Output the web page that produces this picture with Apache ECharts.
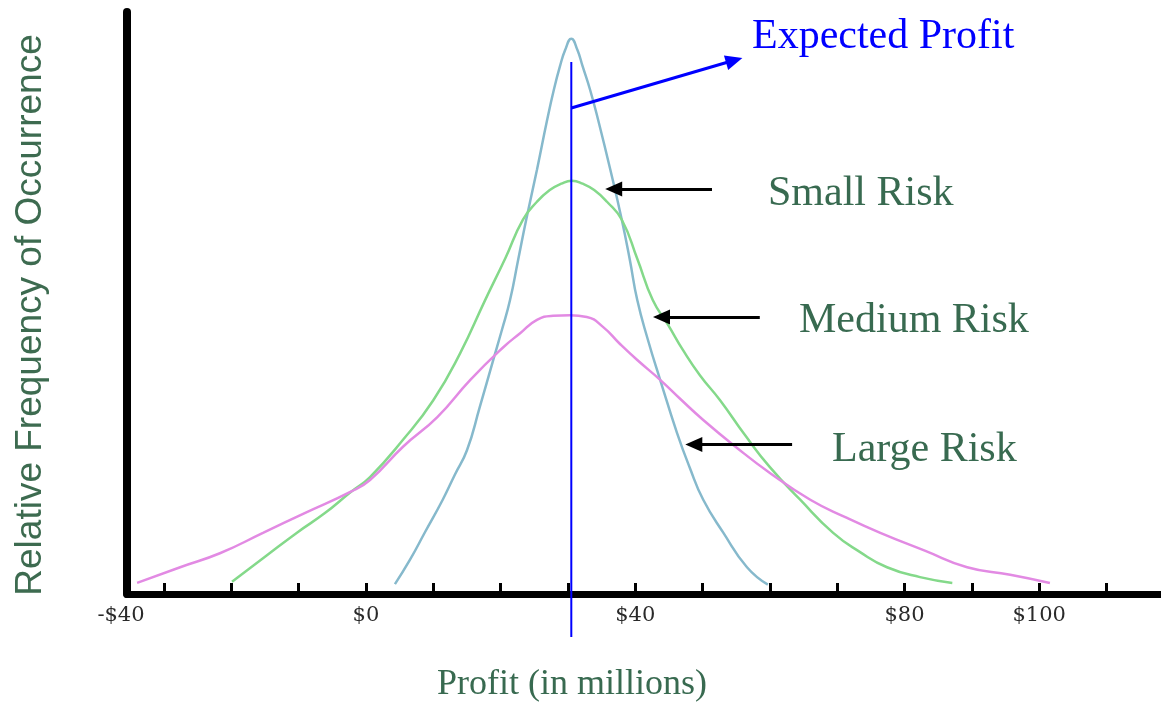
<!DOCTYPE html>
<html>
<head>
<meta charset="utf-8">
<script src="https://cdn.jsdelivr.net/npm/echarts@6/dist/echarts.min.js"></script>
<style>
  html, body { margin: 0; padding: 0; background: #fff; }
  #chart { width: 1161px; height: 707px; }
</style>
</head>
<body>
<div id="chart"></div>
<script>
// profit in $ millions vs relative frequency
const smallRisk = [
  [4.3, 1.7], [6.5, 5.8], [8.8, 10.7], [11.4, 16.2], [13.2, 20.5], [15.0, 24.7],
  [16.9, 32.1], [18.9, 40.2], [20.2, 45.4], [21.4, 50.5], [22.6, 57.4], [23.8, 64.3],
  [25.4, 72.9], [26.9, 81.4], [27.9, 86.6], [28.8, 90.6], [29.6, 93.5], [30.5, 95.4],
  [31.4, 93.5], [32.2, 90.6], [33.3, 86.6], [34.5, 81.4], [36.3, 72.9], [38.0, 64.3],
  [39.2, 57.4], [40.3, 50.5], [41.9, 43.6], [43.7, 36.8], [46.2, 27.7], [48.1, 21.7],
  [50.1, 16.2], [53.1, 10.5], [56.6, 4.6], [59.7, 1.6]
]
const mediumRisk = [
  [-19.9, 2.1], [-15.0, 6.4], [-10.3, 10.5], [-6.1, 13.9], [-2.4, 17.4], [0.6, 20.1],
  [5.5, 26.5], [10.0, 33.3], [14.0, 41.4], [17.7, 50.5], [20.7, 57.7], [23.3, 64.3],
  [25.4, 67.4], [27.3, 69.4], [29.0, 70.5], [30.6, 71.0], [32.2, 70.5], [33.9, 69.4],
  [35.8, 67.4], [38.0, 64.3], [40.3, 57.6], [42.6, 50.5], [44.9, 46.2], [47.1, 41.9],
  [49.6, 37.6], [52.6, 33.3], [56.3, 27.3], [60.0, 21.8], [64.5, 16.2], [69.4, 10.5],
  [73.4, 7.2], [77.4, 4.6], [82.3, 2.9], [87.1, 1.9]
]
const largeRisk = [
  [-34.0, 1.9], [-27.6, 4.6], [-21.7, 7.0], [-15.3, 10.5], [-9.1, 13.9], [-2.4, 17.5],
  [0.6, 19.6], [5.5, 25.3], [10.6, 30.4], [15.5, 36.8], [20.4, 42.4], [22.9, 44.8],
  [25.4, 47.1], [27.8, 47.8], [30.3, 47.9], [32.8, 47.6], [35.2, 45.9], [37.7, 43.0],
  [40.3, 40.2], [43.7, 36.8], [46.7, 33.5], [50.1, 29.9], [54.8, 25.4], [60.0, 20.8],
  [66.0, 16.2], [71.2, 13.2], [76.4, 10.5], [83.1, 7.4], [89.3, 4.6], [95.7, 3.3],
  [101.6, 1.9]
]
const expectedProfit = 30.5
const expectedLine = [[expectedProfit, -7.4], [expectedProfit, 91.4]]
const xTicks = [-30, -20, -10, 0, 10, 20, 30, 40, 50, 60, 70, 80, 90, 100, 110]
const xLabels = [-35.5, 0, 40, 80, 100]
// arrows: [from, to] in data units
const expectedArrow = [[30.5, 83.5], [54.7, 91.7]]
const riskArrows = [
  [[51.4, 69.6], [36.8, 69.6]],
  [[58.5, 47.6], [43.9, 47.6]],
  [[63.3, 25.7], [48.7, 25.7]]
]

const chart = echarts.init(document.getElementById('chart'), null, { renderer: 'canvas' })

const green = '#386a50'
const serif = '"Liberation Serif", "Times New Roman", serif'
const labelFont = '"DejaVu Serif", serif'

const option = {
  animation: false,
  backgroundColor: '#fff',
  grid: { left: 127, right: 0, top: 12, bottom: 113 },
  xAxis: {
    type: 'value',
    min: -35.5,
    max: 118.1,
    splitLine: { show: false },
    axisLine: { show: true, onZero: false, lineStyle: { color: '#000', width: 7 } },
    axisTick: {
      show: true, inside: true, length: 11,
      customValues: xTicks,
      lineStyle: { color: '#000', width: 3 }
    },
    axisLabel: {
      show: true,
      customValues: xLabels,
      margin: 11,
      color: '#2a2a2a',
      fontFamily: labelFont,
      fontSize: 21,
      formatter: v => v < -30 ? '{m|-$40}' : '$' + v,
      rich: { m: { padding: [0, 12, 0, 0], color: '#2a2a2a', fontFamily: labelFont, fontSize: 21 } }
    }
  },
  yAxis: {
    type: 'value',
    min: 0,
    max: 100,
    splitLine: { show: false },
    axisLine: { show: true, onZero: false, lineStyle: { color: '#000', width: 8 } },
    axisTick: { show: false },
    axisLabel: { show: false }
  },
  series: [
    {
      name: 'Small Risk', type: 'line', data: smallRisk, smooth: 0.5, symbol: 'none',
      lineStyle: { color: '#86b9cc', width: 2.5 }
    },
    {
      name: 'Medium Risk', type: 'line', data: mediumRisk, smooth: 0.5, symbol: 'none',
      lineStyle: { color: '#84d98a', width: 2.5 }
    },
    {
      name: 'Large Risk', type: 'line', data: largeRisk, smooth: 0.5, symbol: 'none',
      lineStyle: { color: '#e28ae3', width: 2.5 }
    },
    {
      name: 'Expected Profit', type: 'line', data: expectedLine, symbol: 'none', clip: false,
      lineStyle: { color: '#0000ff', width: 2 },
      markLine: {
        silent: true,
        symbol: ['none', 'triangle'],
        symbolSize: [15, 17],
        label: { show: false },
        data: [
          [
            { coord: expectedArrow[0], lineStyle: { color: '#0000ff', width: 3, type: 'solid' }, itemStyle: { color: '#0000ff' } },
            { coord: expectedArrow[1] }
          ]
        ].concat(riskArrows.map(a => [
          { coord: a[0], lineStyle: { color: '#000', width: 3, type: 'solid' }, itemStyle: { color: '#000' } },
          { coord: a[1] }
        ]))
      }
    }
  ],
  graphic: [
    { type: 'text', x: 752, y: 37, style: { text: 'Expected Profit', font: '42px ' + serif, fill: '#0000ff', verticalAlign: 'middle' } },
    { type: 'text', x: 768, y: 194, style: { text: 'Small Risk', font: '42px ' + serif, fill: green, verticalAlign: 'middle' } },
    { type: 'text', x: 799, y: 321, style: { text: 'Medium Risk', font: '42px ' + serif, fill: green, verticalAlign: 'middle' } },
    { type: 'text', x: 832, y: 450, style: { text: 'Large Risk', font: '42px ' + serif, fill: green, verticalAlign: 'middle' } },
    { type: 'text', x: 572, y: 685, style: { text: 'Profit (in millions)', font: '36px ' + serif, fill: green, align: 'center', verticalAlign: 'middle' } },
    {
      type: 'text', x: 31, y: 315, rotation: Math.PI / 2,
      style: { text: 'Relative Frequency of Occurrence', font: '37px "Liberation Sans", Arial, sans-serif', fill: '#3d6b50', align: 'center', verticalAlign: 'middle' }
    }
  ]
}

chart.setOption(option)
</script>
</body>
</html>
